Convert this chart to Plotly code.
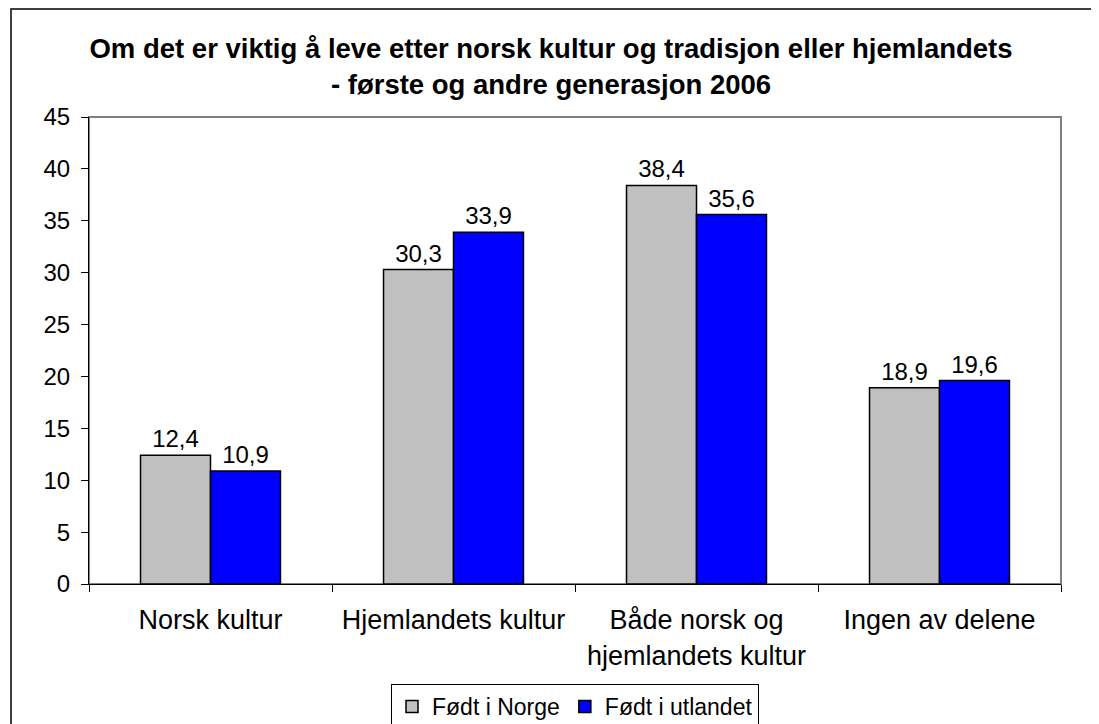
import plotly.graph_objects as go

categories = ["Norsk kultur", "Hjemlandets kultur", "Både norsk og<br>hjemlandets kultur", "Ingen av delene"]
series_names = ["Født i Norge", "Født i utlandet"]
fodt_i_norge = [12.4, 30.3, 38.4, 18.9]
fodt_i_utlandet = [10.9, 33.9, 35.6, 19.6]
y_ticks = [0, 5, 10, 15, 20, 25, 30, 35, 40, 45]
title_text = "<b>Om det er viktig å leve etter norsk kultur og tradisjon eller hjemlandets<br>- første og andre generasjon 2006</b>"

FONT = "Liberation Sans, Arial, sans-serif"
OFF = 8  # page body margin
W, H = 1099 - OFF, 724 - OFF
L, R, T, B = 81, 38, 109, 140
pw, ph = W - L - R, H - T - B


def px_x(x):
    return (x - OFF - L) / pw


def px_y(y):
    return (H - B - (y - OFF)) / ph


def fmt(v):
    return f"{v:.1f}".replace(".", ",")


fig = go.Figure()
for name, vals, color in [(series_names[0], fodt_i_norge, "#C0C0C0"),
                          (series_names[1], fodt_i_utlandet, "#0000FF")]:
    fig.add_trace(go.Bar(
        x=categories, y=vals, name=name,
        marker=dict(color=color, line=dict(color="#000000", width=1.5)),
        text=[fmt(v) for v in vals], textposition="outside",
        textfont=dict(family=FONT, size=24, color="#000000"),
        cliponaxis=False,
    ))

fig.update_layout(
    width=W, height=H,
    margin=dict(l=L, r=R, t=T, b=B, autoexpand=False),
    paper_bgcolor="white", plot_bgcolor="white",
    font=dict(family=FONT, color="#000000"),
    title=dict(text=title_text, x=(551 - OFF) / W, xref="container", xanchor="center",
               y=1 - (58 - OFF) / H, yanchor="top",
               font=dict(family=FONT, size=27.5, color="#000000")),
    barmode="group", bargap=0.424, bargroupgap=0,
    showlegend=True,
    legend=dict(orientation="h", x=0.5, xanchor="center", y=px_y(684), yanchor="top",
                bordercolor="#000000", borderwidth=1, bgcolor="white",
                font=dict(family=FONT, size=23, color="#000000"),
                itemwidth=30, tracegroupgap=0),
    xaxis=dict(showline=True, linecolor="#000000", linewidth=1, automargin=False,
               ticks="outside", tickson="boundaries", ticklen=7, tickcolor="#000000",
               ticklabelstandoff=12,
               tickfont=dict(family=FONT, size=27, color="#000000"),
               showgrid=False, zeroline=False),
    yaxis=dict(range=[0, 45], tickvals=y_ticks, showline=True, linecolor="#000000", linewidth=1,
               automargin=False, ticklabelstandoff=6,
               ticks="outside", ticklen=7, tickcolor="#000000",
               tickfont=dict(family=FONT, size=24, color="#000000"),
               showgrid=False, zeroline=False),
    shapes=[
        dict(type="rect", xref="paper", yref="paper", x0=0, x1=1, y0=0, y1=1,
             line=dict(color="#808080", width=2), layer="below"),
        dict(type="rect", xref="paper", yref="paper",
             x0=px_x(11), x1=px_x(1130), y0=px_y(770), y1=px_y(9),
             line=dict(color="#000000", width=1.5), layer="above"),
    ],
)

fig.write_html("out.html")
